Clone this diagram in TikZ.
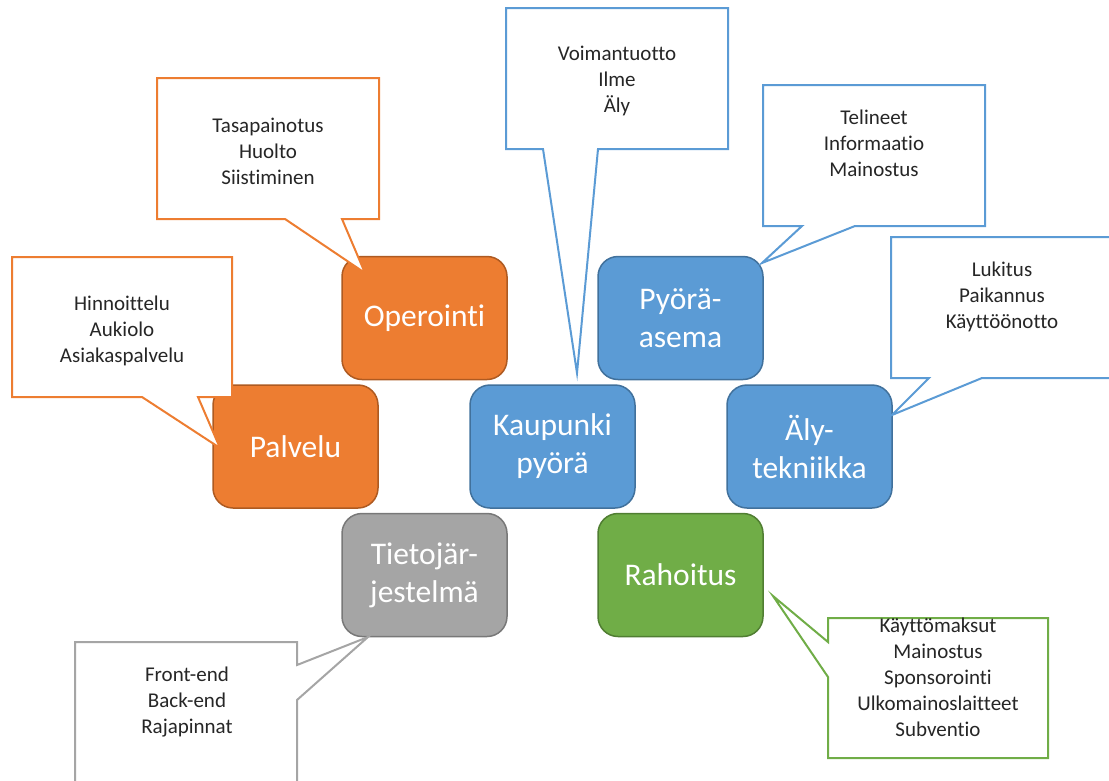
\documentclass[tikz,border=0pt]{standalone}
\usepackage{fontspec}
\setmainfont{Carlito}[Ligatures={NoCommon}]
\definecolor{oFill}{HTML}{ED7D31}\definecolor{oLine}{HTML}{AE5A21}
\definecolor{bFill}{HTML}{5B9BD5}\definecolor{bLine}{HTML}{41719C}
\definecolor{gFill}{HTML}{A5A5A5}\definecolor{gLine}{HTML}{787878}
\definecolor{nFill}{HTML}{70AD47}\definecolor{nLine}{HTML}{507E32}
\definecolor{txt}{HTML}{262626}
\begin{document}
\begin{tikzpicture}[x=1pt,y=-1pt,
  box/.style={draw, line width=1.5pt, rounded corners=20pt, minimum width=165pt, minimum height=123pt,
    inner sep=0pt, text=white, align=center, font=\fontsize{31.5}{38}\selectfont},
  obox/.style={box, fill=oFill, draw=oLine},
  bbox/.style={box, fill=bFill, draw=bLine},
  gbox/.style={box, fill=gFill, draw=gLine},
  nbox/.style={box, fill=nFill, draw=nLine},
  callout/.style={fill=white, line width=2pt, line join=miter},
  ctext/.style={align=center, text=txt, inner sep=0pt, font=\fontsize{21}{26}\selectfont}
]
\useasboundingbox (0,0) rectangle (1109,780);
\clip (0,0) rectangle (1109,780);
% boxes
\node[obox] (oper) at (424.5,318) {Operointi};
\node[bbox] (asema) at (680.5,318) {Pyörä-\\asema};
\node[bbox] (kaup) at (552.5,446.5) {Kaupunki\\pyörä};
\node[obox] (palv) at (295.5,446.5) {Palvelu};
\node[bbox] (aly) at (809.5,446.5) {Äly-\\tekniikka};
\node[gbox] (tieto) at (424.5,575) {Tietojär-\\jestelmä};
\node[nbox] (raho) at (680.5,575) {Rahoitus};
% callouts
\draw[callout, draw=oFill] (157,78) -- (379,78) -- (379,219) -- (342,219) -- (365,273) -- (285,219) -- (157,219) -- cycle;
\node[ctext] (toper) at (268,151) {Tasapainotus\\Huolto\\Siistiminen};
\draw[callout, draw=oFill] (12,257) -- (232,257) -- (232,397) -- (198,397) -- (220,448) -- (142,397) -- (12,397) -- cycle;
\node[ctext] (tpalv) at (122,331) {Hinnoittelu\\Aukiolo\\Asiakaspalvelu};
\draw[callout, draw=bFill] (506,8) -- (728,8) -- (728,149) -- (598,149) -- (577,373) -- (543,149) -- (506,149) -- cycle;
\node[ctext] (tkaup) at (617,81) {Voimantuotto\\Ilme\\Äly};
\draw[callout, draw=bFill] (763,85) -- (985,85) -- (985,226) -- (855,226) -- (762,263) -- (802,226) -- (763,226) -- cycle;
\node[ctext] (tasema) at (874,143) {Telineet\\Informaatio\\Mainostus};
\draw[callout, draw=bFill] (891,237) -- (1113,237) -- (1113,378) -- (982,378) -- (892,415) -- (929,378) -- (891,378) -- cycle;
\node[ctext] (taly) at (1002,297) {Lukitus\\Paikannus\\Käyttöönotto};
\draw[callout, draw=nFill] (828,618) -- (1048,618) -- (1048,758) -- (828,758) -- (828,677) -- (773,596) -- (828,642) -- cycle;
\node[ctext] (traho) at (938,677) {Käyttömaksut\\Mainostus\\Sponsorointi\\Ulkomainoslaitteet\\Subventio};
\draw[callout, draw=gFill] (75,642) -- (297,642) -- (297,665) -- (368,637) -- (297,700) -- (297,795) -- (75,795) -- cycle;
\node[ctext] (ttieto) at (187,702) {Front-end\\Back-end\\Rajapinnat};
\end{tikzpicture}
\end{document}
